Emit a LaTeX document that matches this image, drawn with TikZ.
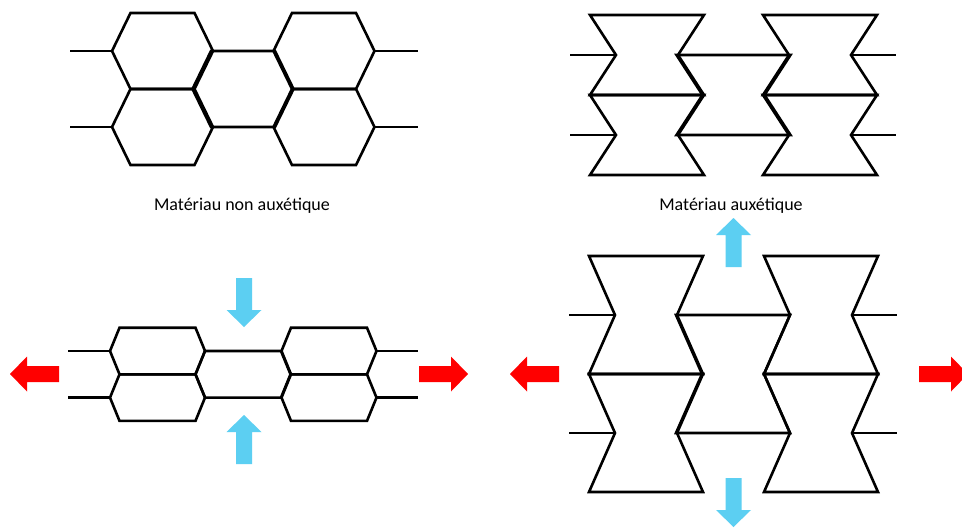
\documentclass[tikz,border=0pt]{standalone}
\usepackage{fontspec}
\setmainfont{Carlito}
\definecolor{pushblue}{HTML}{5CCFF2}
\definecolor{pullred}{HTML}{FF0000}
% convex cell: centre x, centre y, half width, half top edge, half height
\newcommand{\hexcell}[5]{%
  \draw[cell] (#1-#3,#2) -- (#1-#4,#2-#5) -- (#1+#4,#2-#5) -- (#1+#3,#2)
    -- (#1+#4,#2+#5) -- (#1-#4,#2+#5) -- cycle;}
% re-entrant cell: centre x, centre y, outer half width, inner half width, half height
\newcommand{\reentcell}[5]{%
  \draw[cell] (#1-#3,#2-#5) -- (#1+#3,#2-#5) -- (#1+#4,#2) -- (#1+#3,#2+#5)
    -- (#1-#3,#2+#5) -- (#1-#4,#2) -- cycle;}
% block arrow: colour, base point, direction
\newcommand{\fatarrow}[3]{%
  \fill[#1, shift={(#2)}, rotate=#3] (0,-8) -- (32,-8) -- (32,-17.5) -- (49,0)
    -- (32,17.5) -- (32,8) -- (0,8) -- cycle;}
\begin{document}
\begin{tikzpicture}[x=1pt, y=-1pt,
    cell/.style={line width=2.6pt, black},
    caption/.style={anchor=base, font=\fontsize{18}{20}\selectfont}]
    \useasboundingbox (0,0) rectangle (962,528);
    \fill[white] (0,0) rectangle (962,528);
    % non auxetic, at rest
    \hexcell{162.5}{51}{50.5}{32}{38}
    \hexcell{162.5}{127}{50.5}{32}{38}
    \hexcell{243}{89}{50.5}{32}{38}
    \hexcell{324}{51}{50.5}{32}{38}
    \hexcell{324}{127}{50.5}{32}{38}
    \foreach \y in {51,127} {
        \draw[cell] (70,\y) -- (112,\y);
        \draw[cell] (374.5,\y) -- (418,\y);
    }
    \node[caption] (capnon) at (242,210.5) {Matériau non auxétique};
    % auxetic, at rest
    \reentcell{647}{55}{57}{31}{40}
    \reentcell{647}{135}{57}{31}{40}
    \reentcell{733.5}{95}{57}{31}{40}
    \reentcell{820}{55}{57}{31}{40}
    \reentcell{820}{135}{57}{31}{40}
    \foreach \y in {55,135} {
        \draw[cell] (570,\y) -- (616,\y);
        \draw[cell] (851,\y) -- (896,\y);
    }
    \node[caption] (capaux) at (731,210) {Matériau auxétique};
    % non auxetic, stretched
    \hexcell{157.5}{351}{47.5}{38}{23.3}
    \hexcell{157.5}{397.6}{47.5}{38}{23.3}
    \hexcell{243}{374.3}{47.5}{38}{23.3}
    \hexcell{329}{351}{47.5}{38}{23.3}
    \hexcell{329}{397.6}{47.5}{38}{23.3}
    \foreach \y in {351,397.6} {
        \draw[cell] (68,\y) -- (110,\y);
        \draw[cell] (376.5,\y) -- (418,\y);
    }
    \fatarrow{pushblue}{244,278}{270}
    \fatarrow{pushblue}{244,464}{90}
    \fatarrow{pullred}{59,374}{180}
    \fatarrow{pullred}{419,374}{0}
    % auxetic, stretched
    \reentcell{646}{315}{57}{31}{59}
    \reentcell{646}{433}{57}{31}{59}
    \reentcell{733}{374}{57}{31}{59}
    \reentcell{821}{315}{57}{31}{59}
    \reentcell{821}{433}{57}{31}{59}
    \foreach \y in {315,433} {
        \draw[cell] (569,\y) -- (615,\y);
        \draw[cell] (852,\y) -- (897,\y);
    }
    \fatarrow{pushblue}{733.5,267}{90}
    \fatarrow{pushblue}{733.5,478}{270}
    \fatarrow{pullred}{559,374}{180}
    \fatarrow{pullred}{919,374}{0}
\end{tikzpicture}
\end{document}
